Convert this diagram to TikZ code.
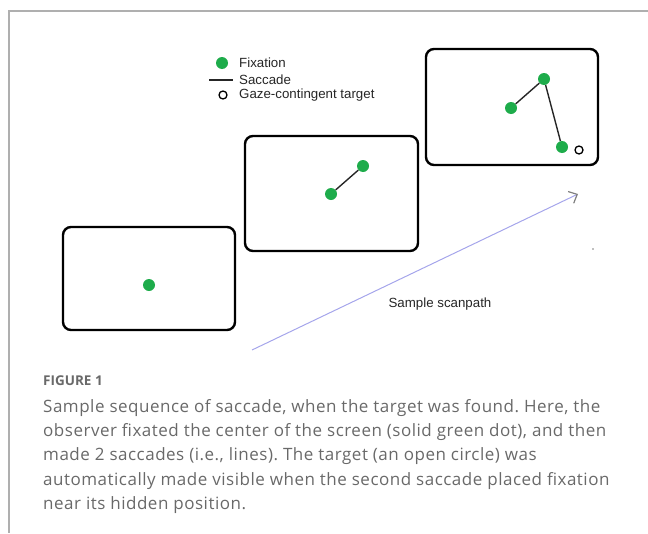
\documentclass[tikz,border=0pt]{standalone}
\usepackage{fontspec}
\setmainfont{Liberation Sans}
\newfontfamily\capfont[LetterSpace=3]{Open Sans}
\newfontfamily\capfontb{Open Sans}
\usetikzlibrary{arrows.meta}
\definecolor{fixgreen}{RGB}{30,172,75}
\definecolor{framegray}{RGB}{175,175,175}
\definecolor{pathblue}{RGB}{165,165,235}
\definecolor{capgray}{RGB}{105,105,105}
\tikzset{
  screen/.style={draw=black, line width=2.4pt, rounded corners=8pt},
  fix/.style={circle, fill=fixgreen, inner sep=0pt, minimum size=12pt},
  tgt/.style={circle, draw=black, line width=1.3pt, fill=white, inner sep=0pt, minimum size=8pt},
  sacc/.style={draw=black!85, line width=1.4pt},
  lbl/.style={anchor=west, inner sep=0pt, font=\fontsize{13.3}{15}\selectfont, text=black!85},
  captxt/.style={anchor=north west, inner sep=0pt, text=capgray, align=left,
    font=\capfont\fontsize{17}{24.3}\selectfont}
}
\begin{document}
\frenchspacing
\begin{tikzpicture}[x=1pt,y=-1pt]
\useasboundingbox (0,0) rectangle (648,533);
% outer frame
\draw[framegray, line width=1.3pt] (648,11) -- (9,11) -- (9,533);
% legend
\node[fix] (lf) at (222,63) {};
\node[lbl] (lft) at (239,63) {Fixation};
\coordinate (ls1) at (209,80);
\coordinate (ls2) at (233,80);
\draw[sacc] (ls1) -- (ls2);
\node[lbl] (lst) at (239,80) {Saccade};
\node[tgt] (lt) at (223,95) {};
\node[lbl] (ltt) at (239,95) {Gaze-contingent target};
% screens
\draw[screen] (63,227) rectangle (235,330);
\draw[screen] (245,136) rectangle (418,251);
\draw[screen] (426,49) rectangle (598,165);
% screen 1
\node[fix] (a1) at (149,285) {};
% screen 2
\node[fix] (b1) at (331,194) {};
\node[fix] (b2) at (363,166) {};
\draw[sacc] (b1) -- (b2);
% screen 3
\node[fix] (c1) at (511,108) {};
\node[fix] (c2) at (544,79) {};
\node[fix] (c3) at (562,147) {};
\draw[sacc] (c1) -- (c2);
\draw[sacc] (c2) -- (c3);
\node[tgt] (ct) at (579,150) {};
% scanpath arrow
\coordinate (p0) at (252,350);
\coordinate (p1) at (578,194);
\draw[pathblue, line width=1pt, -{Straight Barb[color=gray, length=7pt, width=13pt, line width=1.2pt]}] (p0) -- (p1);
\node[lbl, anchor=center] (sp) at (440,304) {Sample scanpath};
\fill[gray] (593,249) circle (0.8);
% caption
\node[anchor=north west, inner sep=0pt, text=capgray, font=\capfontb\bfseries\fontsize{13.5}{15}\selectfont] (fig) at (43,376) {FIGURE 1};
\node[captxt] (cap) at (43,399) {Sample sequence of saccade, when the target was found. Here, the\\
observer fixated the center of the screen (solid green dot), and then\\
made 2 saccades (i.e., lines). The target (an open circle) was\\
automatically made visible when the second saccade placed fixation\\
near its hidden position.};
\end{tikzpicture}
\end{document}
